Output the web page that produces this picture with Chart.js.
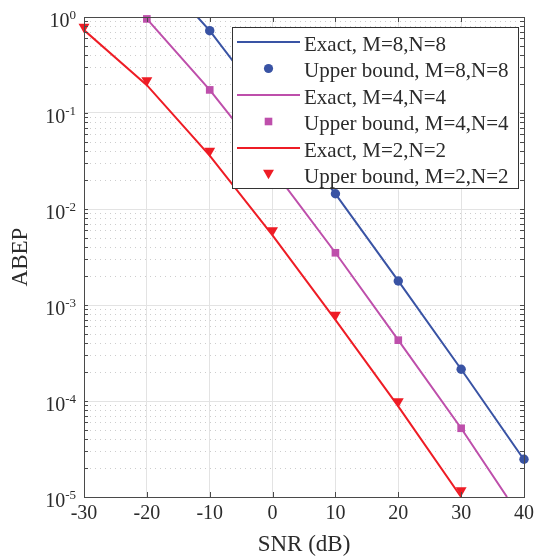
<!DOCTYPE html>
<html><head><meta charset="utf-8">
<script src="https://cdn.jsdelivr.net/npm/chart.js@4/dist/chart.umd.min.js"></script>
<style>html,body{margin:0;padding:0;background:#fff;}#wrap{width:539px;height:558px;position:relative;}</style>
</head><body><div id="wrap"><canvas id="c" width="539" height="558"></canvas></div>
<script>
// ---- data ----
const xTickValues = [-30, -20, -10, 0, 10, 20, 30, 40];
const yDecades = [1e-5, 1e-4, 1e-3, 1e-2, 1e-1, 1];
const yTickBase = '10';
const yTickExponents = ['-5', '-4', '-3', '-2', '-1', '0'];
const xTitle = 'SNR (dB)';
const yTitle = 'ABEP';
const seriesNames = ['Exact, M=8,N=8', 'Upper bound, M=8,N=8', 'Exact, M=4,N=4', 'Upper bound, M=4,N=4', 'Exact, M=2,N=2', 'Upper bound, M=2,N=2'];

const exact8X = [-11.95, -10, 0, 10, 20, 30, 40];
const exact8Y = [1.0, 0.72, 0.1, 0.0144, 1.78e-3, 2.14e-4, 2.45e-5];
const bound8X = [-10, 0, 10, 20, 30, 40];
const bound8Y = [0.72, 0.1, 0.0144, 1.78e-3, 2.14e-4, 2.47e-5];

const exact4X = [-20, -10, 0, 10, 20, 30, 37.3];
const exact4Y = [0.955, 0.174, 0.026, 3.5e-3, 4.3e-4, 5.2e-5, 1e-5];
const bound4X = [-20, -10, 0, 10, 20, 30];
const bound4Y = [0.955, 0.174, 0.026, 3.5e-3, 4.3e-4, 5.2e-5];

const exact2X = [-30, -20, -10, 0, 10, 20, 30];
const exact2Y = [0.73, 0.195, 0.036, 0.0053, 7.0e-4, 8.8e-5, 1.0e-5];
const bound2X = [-30, -20, -10, 0, 10, 20, 30];
const bound2Y = [0.79, 0.218, 0.0402, 0.006, 7.9e-4, 9.9e-5, 1.17e-5];

// ---- style ----
const BLUE = '#3953A4', MAG = '#BE4FAB', RED = '#EE1C25';
const FONT = 'Liberation Serif';
const TXT = '#2b2b2b';

const pts = (xs, ys) => xs.map((x, i) => ({x, y: ys[i]}));
function lineDs(label, xs, ys, color) {
  return {label, data: pts(xs, ys), borderColor: color, backgroundColor: color, borderWidth: 2,
    pointRadius: 0, pointHoverRadius: 0, fill: false, tension: 0, showLine: true};
}
function markDs(label, xs, ys, color, style, r, rot) {
  return {label, data: pts(xs, ys), borderColor: color, backgroundColor: color, borderWidth: 0,
    pointBorderWidth: 0, showLine: false, pointStyle: style, pointRadius: r, pointHoverRadius: r,
    pointRotation: rot || 0, clip: false};
}
const datasets = [
  lineDs(seriesNames[0], exact8X, exact8Y, BLUE),
  markDs(seriesNames[1], bound8X, bound8Y, BLUE, 'circle', 4.7),
  lineDs(seriesNames[2], exact4X, exact4Y, MAG),
  markDs(seriesNames[3], bound4X, bound4Y, MAG, 'rect', 5.4),
  lineDs(seriesNames[4], exact2X, exact2Y, RED),
  markDs(seriesNames[5], bound2X, bound2Y, RED, 'triangle', 6.3, 180)
];
const legendStyle = [
  {type: 'line', color: BLUE}, {type: 'circle', color: BLUE},
  {type: 'line', color: MAG}, {type: 'rect', color: MAG},
  {type: 'line', color: RED}, {type: 'tri', color: RED}
];

const decorPlugin = {
  id: 'decor',
  beforeDatasetsDraw(chart) {
    const {ctx, chartArea: a, scales: {y}} = chart;
    ctx.save();
    ctx.strokeStyle = '#cdcdcd';
    ctx.lineWidth = 1;
    ctx.setLineDash([1, 4]);
    for (let d = 0; d < yDecades.length - 1; d++) {
      for (let k = 2; k <= 9; k++) {
        const py = Math.round(y.getPixelForValue(yDecades[d] * k)) + 0.5;
        ctx.beginPath(); ctx.moveTo(a.left + 1, py); ctx.lineTo(a.right, py); ctx.stroke();
      }
    }
    ctx.restore();
  },
  afterDatasetsDraw(chart) {
    const {ctx, chartArea: a, scales: {x, y}} = chart;
    ctx.save();
    ctx.strokeStyle = '#4a4a4a';
    ctx.lineWidth = 1;
    ctx.setLineDash([]);
    ctx.strokeRect(Math.round(a.left) + 0.5, Math.round(a.top) + 0.5, Math.round(a.right - a.left), Math.round(a.bottom - a.top));
    xTickValues.forEach(v => {
      const px = Math.round(x.getPixelForValue(v)) + 0.5;
      ctx.beginPath();
      ctx.moveTo(px, a.bottom); ctx.lineTo(px, a.bottom - 5);
      ctx.moveTo(px, a.top); ctx.lineTo(px, a.top + 5);
      ctx.stroke();
    });
    for (let d = 0; d < yDecades.length; d++) {
      for (let k = 1; k <= 9; k++) {
        if (d === yDecades.length - 1 && k > 1) break;
        const py = Math.round(y.getPixelForValue(yDecades[d] * k)) + 0.5;
        ctx.beginPath();
        ctx.moveTo(a.left, py); ctx.lineTo(a.left + 4, py);
        ctx.moveTo(a.right, py); ctx.lineTo(a.right - 4, py);
        ctx.stroke();
      }
    }
    ctx.fillStyle = TXT;
    ctx.textBaseline = 'alphabetic';
    yDecades.forEach((v, i) => {
      const py = y.getPixelForValue(v);
      const right = a.left - 8;
      ctx.font = '13px "' + FONT + '"';
      ctx.textAlign = 'right';
      const ew = ctx.measureText(yTickExponents[i]).width;
      ctx.fillText(yTickExponents[i], right, py + 1.5);
      ctx.font = '20px "' + FONT + '"';
      ctx.fillText(yTickBase, right - ew, py + 10);
    });
    ctx.restore();
  },
  afterDraw(chart) {
    const {ctx} = chart;
    ctx.save();
    const L = 232.5, T = 27.5, R = 518.5, B = 188.5;
    ctx.fillStyle = '#ffffff';
    ctx.fillRect(L, T, R - L, B - T);
    ctx.strokeStyle = '#333333';
    ctx.lineWidth = 1;
    ctx.strokeRect(L, T, R - L, B - T);
    ctx.font = '21px "' + FONT + '"';
    ctx.textAlign = 'left';
    ctx.textBaseline = 'alphabetic';
    seriesNames.forEach((name, i) => {
      const yc = 42 + i * 26.5;
      const st = legendStyle[i];
      ctx.fillStyle = st.color; ctx.strokeStyle = st.color;
      if (st.type === 'line') {
        ctx.lineWidth = 2;
        ctx.beginPath(); ctx.moveTo(237, yc); ctx.lineTo(300, yc); ctx.stroke();
      } else if (st.type === 'circle') {
        ctx.beginPath(); ctx.arc(268.5, yc, 4.6, 0, Math.PI * 2); ctx.fill();
      } else if (st.type === 'rect') {
        ctx.fillRect(268.5 - 3.8, yc - 3.8, 7.6, 7.6);
      } else {
        const r = 6.3;
        ctx.beginPath();
        ctx.moveTo(268.5, yc + r * 0.75);
        ctx.lineTo(268.5 - r * 0.866, yc - r * 0.75);
        ctx.lineTo(268.5 + r * 0.866, yc - r * 0.75);
        ctx.closePath(); ctx.fill();
      }
      ctx.fillStyle = TXT;
      ctx.fillText(name, 304, yc + 8.5);
    });
    ctx.restore();
  }
};

new Chart(document.getElementById('c'), {
  type: 'line',
  data: {datasets},
  options: {
    responsive: false,
    animation: false,
    events: [],
    layout: {padding: {top: 17, right: 13, left: 0, bottom: 0}},
    plugins: {legend: {display: false}, tooltip: {enabled: false}},
    scales: {
      x: {
        type: 'linear', min: -30, max: 40,
        afterBuildTicks: s => { s.ticks = xTickValues.map(v => ({value: v})); },
        afterFit: s => { s.height = 61; },
        ticks: {font: {family: FONT, size: 20}, color: TXT, padding: 5, maxRotation: 0, autoSkip: false},
        grid: {color: '#e3e3e3', lineWidth: 1, drawTicks: false},
        border: {display: false},
        title: {display: true, text: xTitle, font: {family: FONT, size: 23}, color: TXT, padding: {top: 0, bottom: -1}}
      },
      y: {
        type: 'logarithmic', min: 1e-5, max: 1,
        afterBuildTicks: s => { s.ticks = yDecades.map(v => ({value: v, major: true})); },
        afterFit: s => { s.width = 84; },
        ticks: {display: false},
        grid: {color: '#e3e3e3', lineWidth: 1, drawTicks: false},
        border: {display: false},
        title: {display: true, text: yTitle, font: {family: FONT, size: 23}, color: TXT, padding: {top: 7, bottom: 0}}
      }
    }
  },
  plugins: [decorPlugin]
});
</script></body></html>
